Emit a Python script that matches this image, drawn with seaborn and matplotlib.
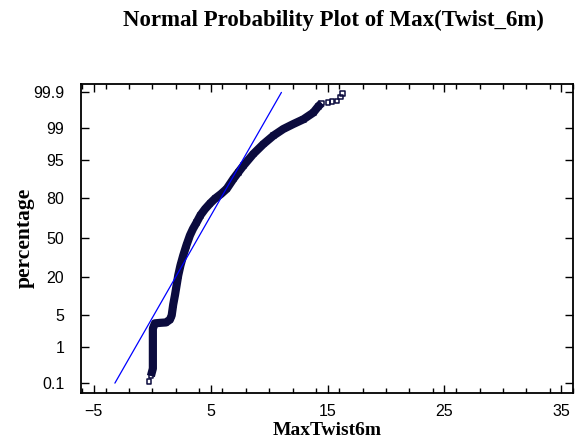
import math
import numpy as np
import pandas as pd
import matplotlib
matplotlib.use("Agg")
import matplotlib.pyplot as plt
import seaborn as sns
from matplotlib.ticker import FixedLocator, MultipleLocator, FixedFormatter

# ---------------- data ----------------
title_text = "Normal Probability Plot of Max(Twist_6m)"
x_label = "MaxTwist6m"
y_label = "percentage"

# ordered observations (value, cumulative percentage)
twist_values = [-0.29, -0.12, 0.05, 0.05, 0.05, 0.05, 0.05, 0.22, 0.65, 1.17,
                1.51, 1.66, 1.79, 1.94, 2.08, 2.22, 2.41, 2.65, 2.92, 3.22,
                3.48, 3.80, 4.12, 4.51, 4.94, 5.36, 5.88, 6.37, 6.93, 7.36,
                7.79, 8.64, 9.50, 10.36, 11.21, 12.07, 12.93, 13.78, 14.21, 14.50,
                15.04, 15.39, 15.79, 16.13, 16.30]
twist_percent = [0.114, 0.164, 0.272, 0.523, 0.939, 1.62, 2.68, 3.44, 3.52, 3.59,
                 4.09, 4.95, 7.78, 11.1, 15.6, 21.2, 27.8, 35.4, 43.6, 52.0,
                 57.5, 62.9, 68.4, 72.9, 76.7, 79.7, 82.4, 85.1, 89.4, 91.8,
                 93.7, 96.25, 97.67, 98.50, 98.96, 99.22, 99.41, 99.61, 99.74, 99.79,
                 99.80, 99.81, 99.82, 99.86, 99.89]
# range of percentages where the points are so dense they form a solid band
band_percent_range = (0.15, 99.795)

# fitted normal reference line (end points)
fit_values = [-3.2, 11.05]
fit_percent = [0.1, 99.9]

x_ticks = [-5, 5, 15, 25, 35]
y_ticks = [0.1, 1, 5, 20, 50, 80, 95, 99, 99.9]
y_tick_labels = ["0.1", "1", "5", "20", "50", "80", "95", "99", "99.9"]

# ---------------- normal probability scale ----------------
_a = [-3.969683028665376e+01, 2.209460984245205e+02, -2.759285104469687e+02,
      1.383577518672690e+02, -3.066479806614716e+01, 2.506628277459239e+00]
_b = [-5.447609879822406e+01, 1.615858368580409e+02, -1.556989798598866e+02,
      6.680131188771972e+01, -1.328068155288572e+01]
_c = [-7.784894002430293e-03, -3.223964580411365e-01, -2.400758277161838e+00,
      -2.549732539343734e+00, 4.374664141464968e+00, 2.938163982698783e+00]
_d = [7.784695709041462e-03, 3.224671290700398e-01, 2.445134137142996e+00,
      3.754408661907416e+00]


def _tail(q):
    num = ((((_c[0] * q + _c[1]) * q + _c[2]) * q + _c[3]) * q + _c[4]) * q + _c[5]
    den = (((_d[0] * q + _d[1]) * q + _d[2]) * q + _d[3]) * q + 1
    return num / den


def pct_to_z(pct):
    arr = np.asarray(pct, dtype=float)
    p = np.clip(arr.ravel() / 100.0, 1e-12, 1 - 1e-12)
    out = np.empty_like(p)
    plow = 0.02425
    lo = p < plow
    hi = p > 1 - plow
    mid = ~(lo | hi)
    out[lo] = _tail(np.sqrt(-2 * np.log(p[lo])))
    out[hi] = -_tail(np.sqrt(-2 * np.log(1 - p[hi])))
    q = p[mid] - 0.5
    r = q * q
    num = (((((_a[0] * r + _a[1]) * r + _a[2]) * r + _a[3]) * r + _a[4]) * r + _a[5]) * q
    den = ((((_b[0] * r + _b[1]) * r + _b[2]) * r + _b[3]) * r + _b[4]) * r + 1
    out[mid] = num / den
    return out.reshape(arr.shape)


_erf = np.vectorize(math.erf)


def z_to_pct(z):
    arr = np.asarray(z, dtype=float)
    return 100.0 * 0.5 * (1.0 + _erf(arr / math.sqrt(2.0)))


# ---------------- figure ----------------
sns.set_theme(style="ticks")
plt.rcParams["font.family"] = ["Liberation Sans", "DejaVu Sans"]
plt.rcParams["text.color"] = "black"
plt.rcParams["axes.labelcolor"] = "black"

navy = "#0b0b3e"
fig = plt.figure(figsize=(5.85, 4.41), dpi=100)
ax = fig.add_axes([81 / 585, 1 - 393 / 441, (573 - 81) / 585, (393 - 84) / 441])

df = pd.DataFrame({"value": twist_values, "percent": twist_percent})
band = df[(df["percent"] >= band_percent_range[0]) & (df["percent"] <= band_percent_range[1])]
fit_df = pd.DataFrame({"value": fit_values, "percent": fit_percent})

ax.set_yscale("function", functions=(pct_to_z, z_to_pct))

sns.lineplot(data=band, x="value", y="percent", ax=ax, color=navy, lw=5.9,
             estimator=None, sort=False, solid_capstyle="butt", zorder=2)
sns.scatterplot(data=df, x="value", y="percent", ax=ax, marker="s", s=11,
                color=navy, facecolor="none", edgecolor=navy, linewidth=1.1, zorder=3)
sns.lineplot(data=fit_df, x="value", y="percent", ax=ax, color="#0000ff", lw=0.9,
             estimator=None, sort=False, zorder=4)

ax.set_xlim(-6.1, 36.0)
ax.set_ylim(0.0483, 99.946)

ax.xaxis.set_major_locator(FixedLocator(x_ticks))
ax.xaxis.set_minor_locator(MultipleLocator(2))
ax.yaxis.set_major_locator(FixedLocator(y_ticks))
ax.yaxis.set_major_formatter(FixedFormatter(y_tick_labels))
ax.yaxis.set_minor_locator(FixedLocator([]))

ax.tick_params(axis="both", which="both", direction="in", top=True, right=True,
               color="black", labelcolor="black", labelsize=11.5)
ax.tick_params(axis="both", which="major", length=6, width=1.0)
ax.tick_params(axis="x", which="minor", length=3.5, width=1.0)
ax.tick_params(axis="x", which="major", pad=8)
ax.tick_params(axis="y", which="major", pad=12)

for s in ax.spines.values():
    s.set_visible(True)
    s.set_color("black")
    s.set_linewidth(1.3)

ax.grid(False)
ax.set_facecolor("white")
if ax.get_legend() is not None:
    ax.get_legend().remove()

serif = ["Liberation Serif", "DejaVu Serif"]
ax.set_xlabel(x_label, fontsize=14, fontweight="bold", family=serif, color="black")
ax.xaxis.label.set_verticalalignment("center")
ax.xaxis.set_label_coords(0.5, -0.12)
ax.set_ylabel(y_label, fontsize=15.5, fontweight="bold", family=serif, color="black")
ax.yaxis.label.set_verticalalignment("center")
ax.yaxis.set_label_coords(-0.114, 0.502)

fig.text(333 / 585, 1 - 26 / 441, title_text, ha="center", va="baseline",
         fontsize=16.5, fontweight="bold", family=serif, color="black")

fig.savefig("out.png", dpi=100, facecolor="white")
